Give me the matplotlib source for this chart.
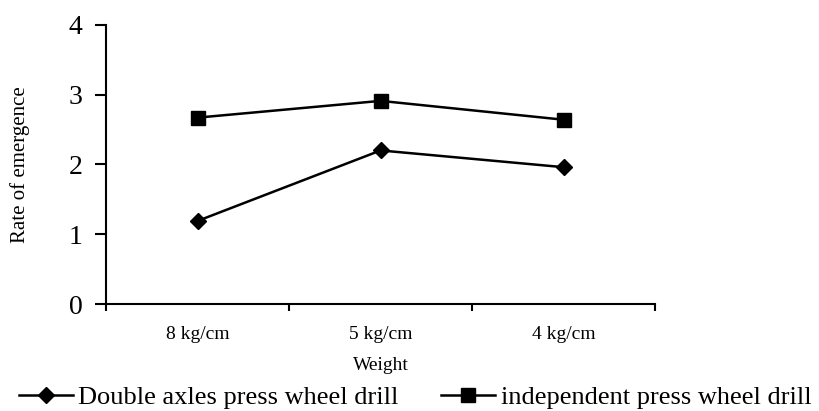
import matplotlib.pyplot as plt
import numpy as np

# data
weights = ['8 kg/cm', '5 kg/cm', '4 kg/cm']
double_axles = [1.19, 2.20, 1.96]
independent = [2.67, 2.91, 2.64]

plt.rcParams['font.family'] = ['Liberation Serif', 'DejaVu Serif']

fig = plt.figure(figsize=(8.2, 4.11), dpi=100)
ax = fig.add_axes([0.1293, 0.2603, 0.6697, 0.6794])

x = np.arange(len(weights)) + 0.5
ax.plot(x, double_axles, color='black', lw=1.8, marker='D', markersize=8,
        label='Double axles press wheel drill')
ax.plot(x, independent, color='black', lw=1.8, marker='s', markersize=10,
        label='independent press wheel drill')

ax.set_xlim(0, len(weights))
ax.set_ylim(0, 4)
ax.set_yticks([0, 1, 2, 3, 4])
ax.set_xticks(np.arange(len(weights) + 1))
ax.set_xticklabels([])
ax.set_xticks(x, minor=True)
ax.set_xticklabels(weights, minor=True, fontsize=14)
ax.tick_params(axis='x', which='minor', length=0, pad=16)
ax.tick_params(axis='x', which='major', length=5, width=1.5, direction='out')
ax.tick_params(axis='y', length=8, width=1.5, direction='out', labelsize=20, pad=9)

for s in ['top', 'right']:
    ax.spines[s].set_visible(False)
for s in ['left', 'bottom']:
    ax.spines[s].set_linewidth(1.5)

ax.set_ylabel('Rate of emergence', fontsize=15)
ax.yaxis.set_label_coords(-0.139, 0.5)
ax.set_xlabel('Weight', fontsize=14)
ax.xaxis.set_label_coords(0.5, -0.219)
ax.xaxis.label.set_va('center')

fig.legend(loc='center', bbox_to_anchor=(0.506, 0.034), ncol=2, frameon=False,
           fontsize=19, handlelength=2.05, handletextpad=0.2, columnspacing=1.63,
           borderpad=0, borderaxespad=0)

fig.savefig('out.png', dpi=100)
